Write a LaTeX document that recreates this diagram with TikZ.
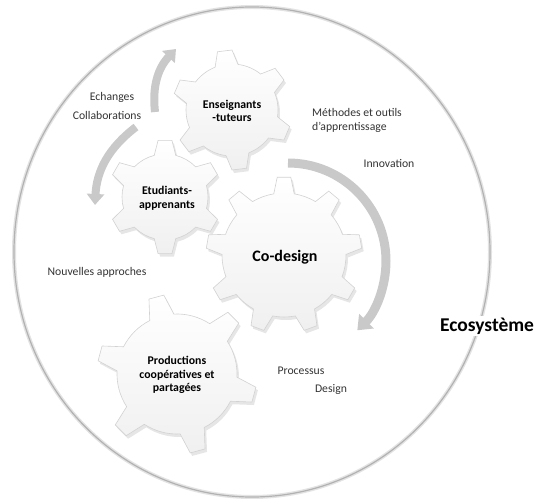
\documentclass[tikz,border=0pt]{standalone}
\usepackage{fontspec}
\setmainfont{Carlito}
\usetikzlibrary{shadows,arrows.meta,calc}
\newcommand\mygear[8]{% cx, cy, n, root, tip, offset, halfroot, halftip
  \pgfmathsetmacro\gstep{360/#3}%
  \path[gearstyle, shift={(#1,#2)}] (#6-#7:#4)
    \foreach \k in {1,...,#3}{
      -- ({#6+(\k-1)*\gstep-#8}:#5) -- ({#6+(\k-1)*\gstep+#8}:#5)
      -- ({#6+(\k-1)*\gstep+#7}:#4)
      arc[start angle={#6+(\k-1)*\gstep+#7}, end angle={#6+\k*\gstep-#7}, radius=#4]
    } -- cycle;
}
\tikzset{
  gearstyle/.style={draw=gray!35, line width=0.6pt, top color=white, bottom color=gray!12,
    drop shadow={opacity=0.2, shadow xshift=2pt, shadow yshift=-3pt}},
  lbl/.style={font=\fontsize{11.7}{14}\selectfont, text=black!80, inner sep=1pt},
  glbl/.style={font=\fontsize{11.8}{13.8}\selectfont\bfseries, text=black, align=center, inner sep=1pt},
  bigarrow/.style={line width=9pt, draw=gray!42, -{Triangle[length=13pt,width=20pt]}},
  smallarrow/.style={line width=8pt, draw=gray!42, -{Triangle[length=11pt,width=17pt]}}
}
\begin{document}
\begin{tikzpicture}[x=1pt,y=1pt]
\useasboundingbox (0,0) rectangle (541,499);
% ecosystem
\draw[gray!22, line width=4pt] (252,247) ellipse [x radius=238, y radius=245];
\draw[gray!60, line width=1.2pt] (252,247) ellipse [x radius=238, y radius=245];
% gears
\mygear{232}{389}{6}{46}{60}{97}{14.5}{7}
\mygear{165}{302}{6}{43}{57}{90}{14.5}{7}
\mygear{284}{244}{9}{62}{78}{90}{9.5}{5}
\mygear{177}{125}{6}{60}{80}{105}{12}{5.5}
% arrows
\coordinate (a1s) at (155,387);
\coordinate (a1e) at (176,450);
\draw[smallarrow] (a1s) to[bend left=25] (a1e);
\coordinate (a2s) at (136,372);
\coordinate (a2e) at (95,294);
\draw[smallarrow] (a2s) to[bend right=25] (a2e);
\coordinate (a3s) at (288,336);
\draw[bigarrow] (a3s) arc[start angle=90, end angle=-45, radius=98];
% labels
\node[lbl] (ech) at (112,402) {Echanges};
\node[lbl] (col) at (107,384) {Collaborations};
\node[glbl] (ens) at (232,388) {Enseignants\\-tuteurs};
\node[lbl, align=left, anchor=west] (met) at (311,378.5) {Méthodes et outils\\d’apprentissage};
\node[lbl] (inn) at (389,336) {Innovation};
\node[glbl] (etu) at (167,301) {Etudiants-\\apprenants};
\node[glbl, font=\fontsize{16}{18}\selectfont\bfseries] (cod) at (285,242) {Co-design};
\node[lbl] (nou) at (97,227) {Nouvelles approches};
\node[glbl] (pro) at (177,124) {Productions\\coopératives et\\partagées};
\node[lbl] (prc) at (301,128) {Processus};
\node[lbl] (des) at (331,110) {Design};
\node[fill=white, inner sep=2pt, font=\fontsize{19.5}{22}\selectfont\bfseries] (eco) at (487,173) {Ecosystème};
\end{tikzpicture}
\end{document}
